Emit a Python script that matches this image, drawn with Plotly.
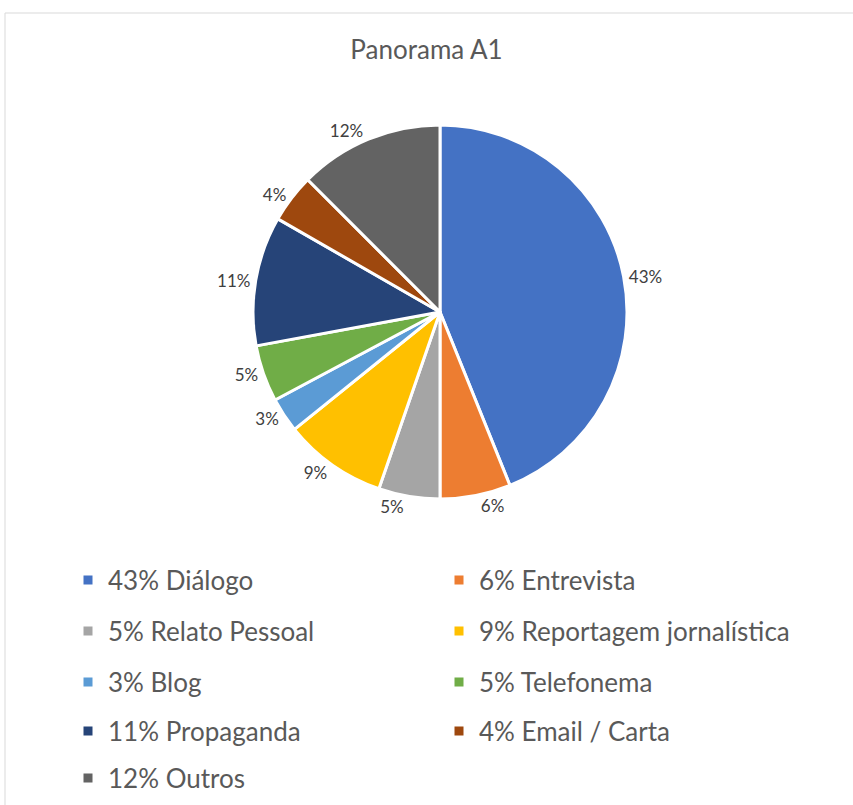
import plotly.graph_objects as go

categories = ["Diálogo", "Entrevista", "Relato Pessoal", "Reportagem jornalística",
              "Blog", "Telefonema", "Propaganda", "Email / Carta", "Outros"]
values = [43.9, 6.1, 5.3, 8.9, 3.0, 4.9, 11.2, 4.2, 12.5]
pct_labels = ["43%", "6%", "5%", "9%", "3%", "5%", "11%", "4%", "12%"]
colors = ["#4472C4", "#ED7D31", "#A5A5A5", "#FFC000", "#5B9BD5",
          "#70AD47", "#264478", "#9E480E", "#636363"]

W, H = 853, 805
FONT = "Lato"
TXT = "#595959"

fig = go.Figure()
fig.add_trace(go.Pie(
    labels=categories, values=values, text=pct_labels, textinfo="text",
    textposition="outside", sort=False, direction="clockwise", rotation=0,
    marker=dict(colors=colors, line=dict(color="white", width=3)),
    textfont=dict(family=FONT, size=17, color="#404040"),
    domain=dict(x=[(440 - 187) / W, (440 + 187) / W], y=[1 - 499 / H, 1 - 125 / H]),
    showlegend=False, hoverinfo="label+percent",
))

# legend rows (two columns) built from the data
row_y = [580, 631, 682, 731, 778]
for i, (cat, pct, col) in enumerate(zip(categories, pct_labels, colors)):
    row = i // 2
    lname = "legend" if row == 0 else f"legend{row + 1}"
    fig.add_trace(go.Scatter(
        x=[None], y=[None], mode="markers", name=f"{pct} {cat}",
        marker=dict(symbol="square", size=9, color=col),
        legend=lname, showlegend=True, hoverinfo="skip",
    ))

legend_common = dict(orientation="h", xanchor="left", yanchor="middle",
                     font=dict(family=FONT, size=26, color=TXT),
                     entrywidth=326, entrywidthmode="pixels",
                     bgcolor="rgba(0,0,0,0)", itemwidth=30)
layout_legends = {}
for r, yp in enumerate(row_y):
    key = "legend" if r == 0 else f"legend{r + 1}"
    layout_legends[key] = dict(legend_common, x=68 / W, y=1 - yp / H)

fig.update_layout(
    width=W, height=H,
    margin=dict(l=0, r=0, t=0, b=0),
    paper_bgcolor="white", plot_bgcolor="white",
    xaxis=dict(visible=False), yaxis=dict(visible=False),
    title=dict(text="Panorama A1", x=0.5, xanchor="center", y=1 - 50 / H, yanchor="middle",
               font=dict(family=FONT, size=26, color=TXT)),
    shapes=[dict(type="rect", xref="paper", yref="paper",
                 x0=5 / W, x1=1.01, y0=-0.01, y1=1 - 13 / H,
                 line=dict(color="#D9D9D9", width=1), fillcolor="rgba(0,0,0,0)", layer="below")],
    **layout_legends,
)

fig.write_html("out.html")
